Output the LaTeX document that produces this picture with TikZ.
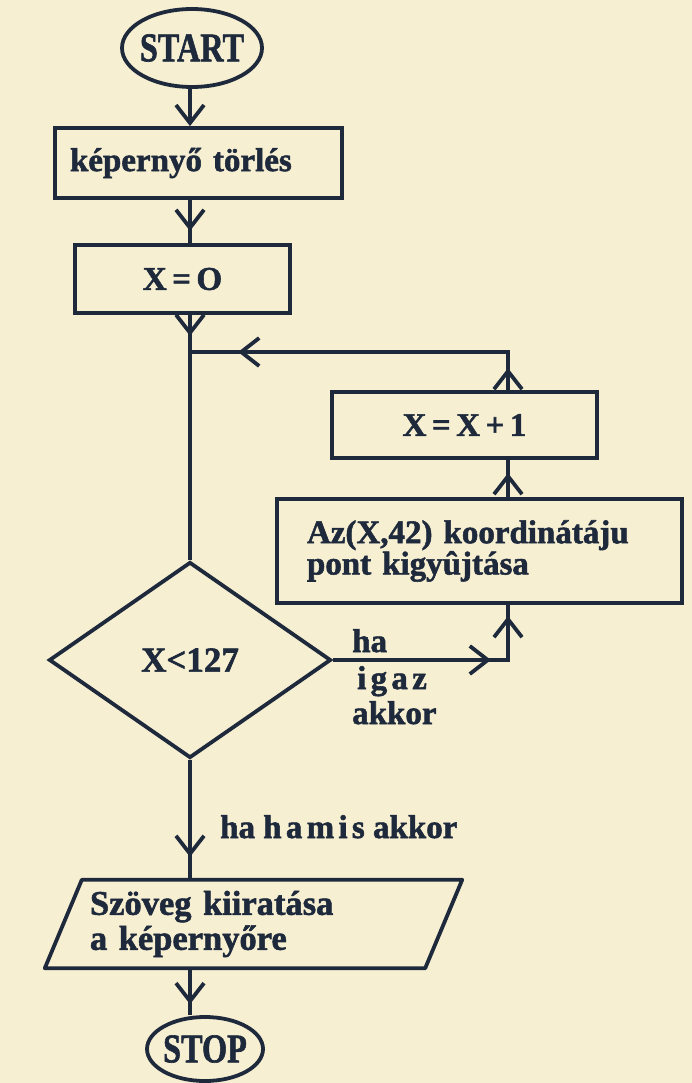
\documentclass[tikz,border=0pt]{standalone}
\usepackage{fontspec}
\setmainfont{Liberation Serif}[BoldFeatures={FakeBold=1.6}]
\usetikzlibrary{arrows.meta,decorations.markings,shapes.geometric}
\definecolor{paper}{HTML}{F7EFD2}
\definecolor{ink}{HTML}{1E2A3C}
\newcommand{\tallword}[1]{\scalebox{0.95}[1.2]{#1}}
\begin{document}
\begin{tikzpicture}[x=1pt,y=-1pt,
  every node/.style={text=ink, font=\bfseries\fontsize{33}{27}\selectfont},
  box/.style={draw=ink, line width=3.8pt, rectangle, inner sep=0pt},
  term/.style={draw=ink, line width=3.8pt, ellipse, inner sep=0pt, inner xsep=-6pt, font=\bfseries\fontsize{34}{34}\selectfont},
  flow/.style={draw=ink, line width=3.8pt},
  tipmark/.style={postaction={decorate, decoration={markings, mark=at position #1 with {\arrow{Straight Barb[length=18pt,width=28pt,line width=3.8pt]}}}}},
  lbl/.style={anchor=base west, inner sep=0pt, font=\bfseries\fontsize{33}{33}\selectfont}
]
\useasboundingbox[fill=paper] (0,0) rectangle (692,1083);
\coordinate (m) at (190,0);
\coordinate (r) at (508,0);
\coordinate (j) at (190,352);
\coordinate (jr) at (508,352);

\node[term, minimum width=140pt, minimum height=78pt] (start) at (192,48) {\tallword{START}};
\node[box, minimum width=287pt, minimum height=70pt, text width=257pt, align=left] (box1) at (198.5,163) {képernyő törlés};
\node[box, minimum width=215pt, minimum height=68pt] (box2) at (182.5,279) {X\,=\,O};
\node[box, minimum width=265pt, minimum height=66pt] (box3) at (464.5,425) {X\,=\,X\,+\,1};
\node[box, minimum width=405pt, minimum height=104pt, text width=345pt, align=left, font=\bfseries\fontsize{33}{24}\selectfont] (box4) at (479.5,551) {Az(X,42) koordinátáju\\pont kigyûjtása};
\node[draw=ink, line width=3.8pt, diamond, inner sep=0pt, minimum width=282pt, minimum height=196pt, font=\bfseries\fontsize{35}{35}\selectfont] (d) at (190,660) {X<127};

\node[lbl] (ha) at (352,652) {ha};
\node[lbl] (igaz) at (357,689) {\addfontfeature{LetterSpace=13}igaz};
\node[lbl] (akkor) at (352,724) {akkor};
\node[lbl] (hamis) at (220,838) {ha {\addfontfeature{LetterSpace=13}hamis} akkor};

\node[inner sep=0pt, minimum width=380pt, minimum height=88pt, text width=327pt, align=left, font=\bfseries\fontsize{34.5}{35}\selectfont] (par) at (253.5,924) {Szöveg kiiratása\\a képernyőre};
\draw[flow, line join=round] ([xshift=18.5pt]par.north west) -- ([xshift=18.5pt]par.north east) -- ([xshift=-18.5pt]par.south east) -- ([xshift=-18.5pt]par.south west) -- cycle;

\node[term, minimum width=116pt, minimum height=64pt] (stop) at (205,1049) {\tallword{STOP}};

\draw[flow, -{Straight Barb[length=18pt,width=28pt]}] (start.south -| m) -- (box1.north -| m);
\draw[flow, tipmark=31pt] (box1.south -| m) -- (box2.north -| m);
\draw[flow, tipmark=21pt] (box2.south -| m) -- (j) -- (d.north);
\draw[flow, tipmark=22pt, tipmark=308pt] (box3.north -| r) -- (jr) -- (j);
\draw[flow, tipmark=24pt] (box4.north -| r) -- (box3.south -| r);
\draw[flow, tipmark=158pt, tipmark=219pt] (d.east) -- (d.east -| r) -- (box4.south -| r);
\draw[flow, tipmark=97pt] (d.south) -- (par.north -| d.south);
\draw[flow, tipmark=36pt] (par.south -| m) -- (stop.north -| m);
\end{tikzpicture}
\end{document}
